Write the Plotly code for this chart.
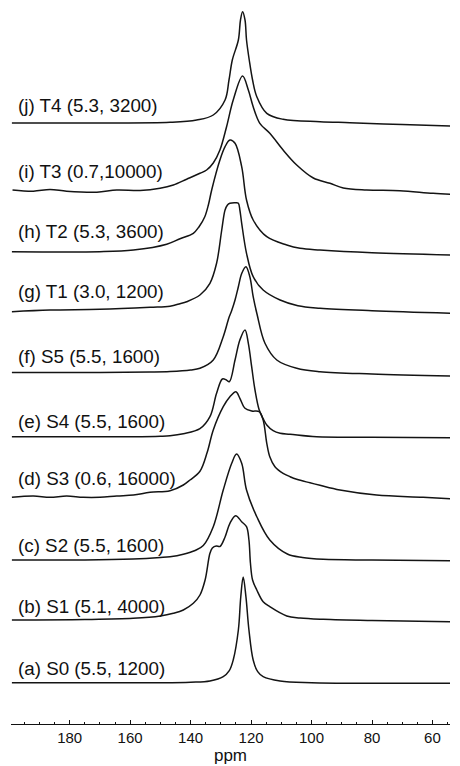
import plotly.graph_objects as go

# ---- data ----
labels = ["(a) S0 (5.5, 1200)", "(b) S1 (5.1, 4000)", "(c) S2 (5.5, 1600)",
          "(d) S3 (0.6, 16000)", "(e) S4 (5.5, 1600)", "(f) S5 (5.5, 1600)",
          "(g) T1 (3.0, 1200)", "(h) T2 (5.3, 3600)", "(i) T3 (0.7,10000)",
          "(j) T4 (5.3, 3200)"]

a_ppm = [199.1, 175, 150, 140, 133.6, 129.2, 127.2, 125.9, 124.2, 123.4, 122.6, 121.7, 120.7, 119.3, 117.8, 116.0, 110.4, 100, 80, 53]
a_int = [0, 0, 0, 0.5, 1.7, 6, 12, 22.7, 52.7, 86, 105.7, 86, 52.7, 22.7, 11, 6, 1.7, 0, -0.6, -0.6]

b_ppm = [199.1, 175, 159.0, 150, 145.7, 142.4, 139.1, 136.9, 135.2, 133.6, 132.8, 131.5, 130.3, 128.6, 127.0,
         125.1, 123.1, 121.5, 120.7, 120.2, 119.5, 118.1, 116.0, 113.8, 108.2, 103.8, 96.1, 80, 53]
b_int = [0, 0.5, 1.7, 4, 6.7, 10, 16.7, 25, 40, 66.7, 72, 74, 73.5, 83, 96.7,
         104.3, 98.3, 93.3, 80, 56.7, 40, 30, 18.3, 13.3, 4, 2, 0.7, -0.5, -1.7]

c_ppm = [199.1, 175, 159.0, 150, 146.8, 142.4, 138.5, 135.8, 132.5, 129.2, 126.4, 124.8, 123.1, 121.5, 118.1, 113.8, 108.0, 103, 96.1, 80, 53]
c_int = [0, 0, 1, 2.5, 3.3, 5.8, 9.5, 14.5, 33.3, 70, 96.7, 106, 96.7, 70, 43.3, 20, 6, 2.5, 0.7, 0, -0.7]

d_ppm = [199.1, 192.0, 186.5, 181.0, 175.5, 170.0, 164.4, 158.9, 153.4, 146.8, 142.4, 140.2, 136.9, 134.5, 132.5, 129.2,
         127.0, 125.0, 123.7, 122.0, 119.8, 117.3, 116.0, 114.8, 113.8, 112.1, 109.4, 107.1, 104.9, 100.5, 97.2, 90.6,
         78.5, 63.1, 53]
d_int = [0, 1.3, 0, 1.3, 0, 0, 1.3, 2.3, 5, 6.5, 12.3, 17.3, 26, 45, 67.3, 90.6,
         100.6, 105.6, 99, 89, 86.3, 85.6, 77.3, 54, 40.6, 30.6, 24, 20.6, 18, 14.5, 12, 7.3,
         2.3, 0, -1.7]

e_ppm = [199.1, 175, 159, 150, 146.8, 142.4, 136.9, 133.6, 131.4, 129.5, 128.3, 127.2, 125.3, 123.7, 122.0, 120.9,
         119.8, 118.7, 117.3, 116.0, 114.8, 112.7, 110.4, 107.1, 98.3, 80, 53]
e_int = [0, 0, 0, 0.5, 1, 3, 8, 20, 43.4, 57.7, 57, 55, 76.7, 96.7, 106.7, 93.4,
         70, 46.7, 26.7, 18, 11.7, 6, 3.4, 2.5, 0, -0.5, -1]

f_ppm = [199.1, 170, 153.4, 146.8, 140, 136.9, 132.5, 129.2, 127.3, 126.4, 125.3, 124.2, 123.1, 121.7, 120.4, 119.3,
         118.0, 115.4, 111.5, 104.9, 97.2, 80, 53]
f_int = [0, 0, 0.5, 1, 2.5, 4.2, 12.5, 35.8, 55, 62, 72.5, 85.8, 99, 105.8, 95.8, 75.8,
         58, 29.2, 12.5, 4.2, 0.8, -1.5, -3.5]

g_ppm = [199.1, 186.5, 170, 153.4, 146.8, 143.5, 141.3, 136.9, 133.6, 131.4, 129.7, 128.6, 127.8, 127.0, 125.0, 124.2,
         123.7, 123.1, 121.5, 119.3, 116.0, 110.4, 104.5, 97.2, 80, 53]
g_int = [0, 1.7, 2.4, 4.4, 5.5, 8, 10, 16.7, 28.4, 48.4, 81.7, 101.7, 106.7, 108.4, 109, 108.4,
         101.7, 88.4, 58.4, 35, 21.7, 11.7, 6, 3.5, 1, -1.6]

h_ppm = [199.1, 170, 158.9, 147.9, 143.5, 139.1, 137.2, 135.3, 134.1, 133.0, 130.3, 128.6, 127.0, 125.3, 123.1, 121.5, 119.3,
         114.8, 108.2, 103.8, 97.2, 80, 53]
h_int = [0, 0, 1.7, 7.5, 13, 18.4, 25, 35, 47, 62, 91.7, 105, 111.7, 108.4, 85, 51.7, 31.7,
         15, 6.7, 3.4, 1.7, -1, -3.3]

i_ppm = [198.9, 192.0, 186.5, 181.0, 171.0, 164.4, 156.7, 150.1, 145.7, 141.3, 136.9, 134.7, 132.5, 130.3, 128.1, 125.9, 122.8,
         120.9, 119.3, 117.1, 113.8, 109.4, 104.9, 99.4, 93.9, 89.5, 81.8, 70.8, 59.8, 53]
i_int = [0, -1.2, 0.5, -1.2, -2.2, 0, -0.5, 1.7, 5, 10.8, 16.7, 20, 27, 40, 63.3, 90, 114,
         100, 83.3, 66.7, 56.7, 40, 25, 12, 6.7, 2, 0, -0.7, -3.3, -4.3]

j_ppm = [199.1, 170, 146.8, 138.0, 132.5, 128.6, 127.3, 126.2, 124.2, 123.5, 122.8, 122.0, 121.5, 120.6, 119.5, 118.1,
         114.8, 109.4, 97.2, 87.3, 70, 53]
j_int = [0, 0, 0.7, 3, 8, 23, 43, 63, 83, 103, 111.3, 103, 83, 63, 43, 26.3,
         9.7, 3.7, 1.3, 0.3, -1.5, -3]

spectra = [(a_ppm, a_int), (b_ppm, b_int), (c_ppm, c_int), (d_ppm, d_int), (e_ppm, e_int),
           (f_ppm, f_int), (g_ppm, g_int), (h_ppm, h_int), (i_ppm, i_int), (j_ppm, j_int)]

# stacking offsets of each baseline and label heights (plot units)
offsets = [41.3, 104, 164, 226.7, 287.3, 351.5, 412.3, 472.3, 534, 601]
label_y = [55.7, 117.3, 179, 245.7, 302.3, 367.3, 432.3, 492.3, 552.3, 619]

tick_vals = [180, 160, 140, 120, 100, 80, 60]

FONT = "Liberation Sans, Arial, Helvetica, sans-serif"

fig = go.Figure()
for (ppm, inten), off in zip(spectra, offsets):
    fig.add_trace(go.Scatter(
        x=ppm, y=[off + v for v in inten], mode="lines",
        line=dict(color="#141414", width=1.5, shape="spline", smoothing=1.0),
        showlegend=False, hoverinfo="skip"))

for txt, ly in zip(labels, label_y):
    fig.add_annotation(x=0.0125, xref="paper", y=ly, yref="y", text=txt,
                       showarrow=False, xanchor="left", yanchor="middle",
                       font=dict(family=FONT, size=18.8, color="#111"))

fig.update_layout(
    width=460, height=766,
    margin=dict(l=11, r=10, t=0, b=42),
    paper_bgcolor="white", plot_bgcolor="white",
    xaxis=dict(range=[199.4, 54.2], showline=True, linecolor="#111", linewidth=1.2,
               ticks="inside", ticklen=4, tickwidth=1, tickcolor="#111",
               tickvals=tick_vals, showgrid=False, zeroline=False,
               minor=dict(dtick=5, tick0=0, ticks="inside", ticklen=2, tickcolor="#111", tickwidth=1),
               tickfont=dict(family=FONT, size=15, color="#111"),
               title=dict(text="ppm", standoff=1,
                          font=dict(family=FONT, size=17, color="#111"))),
    yaxis=dict(visible=False, range=[0, 724], fixedrange=True),
)

fig.write_html("out.html")
